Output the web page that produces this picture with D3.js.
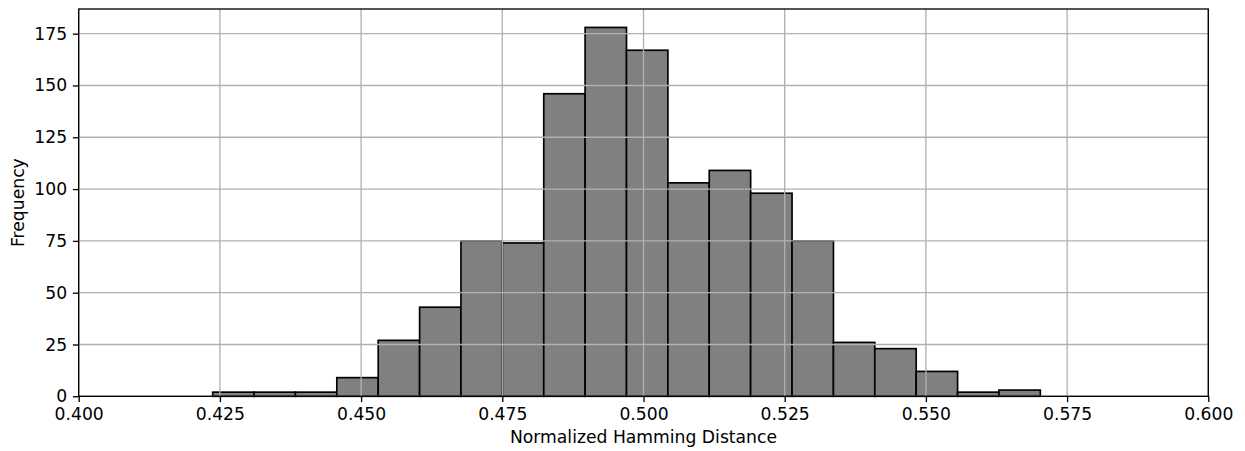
<!DOCTYPE html>
<html>
<head>
<meta charset="utf-8">
<script src="https://cdn.jsdelivr.net/npm/d3@7"></script>
<style>
  html, body { margin: 0; padding: 0; background: #fff; }
  svg { display: block; }
  text { font-family: "DejaVu Sans", sans-serif; fill: #000; }
</style>
</head>
<body>
<svg id="chart" width="1245" height="451"></svg>
<script>
// Histogram bin edges (Normalized Hamming Distance)
const binEdges = [0.42372, 0.43105, 0.43837, 0.44570, 0.45303, 0.46036, 0.46768,
  0.47501, 0.48234, 0.48966, 0.49699, 0.50432, 0.51164, 0.51897, 0.52630,
  0.53363, 0.54095, 0.54828, 0.55561, 0.56293, 0.57026];
// Frequencies per bin
const counts = [2, 2, 2, 9, 27, 43, 75, 74, 146, 178, 167, 103, 109, 98, 75, 26, 23, 12, 2, 3];
// Tick labels
const xTicks = [0.400, 0.425, 0.450, 0.475, 0.500, 0.525, 0.550, 0.575, 0.600];
const yTicks = [0, 25, 50, 75, 100, 125, 150, 175];
const xLabel = "Normalized Hamming Distance";
const yLabel = "Frequency";

const svg = d3.select("#chart");
const L = 78.7, R = 1208.3, T = 9, B = 396.3;
const fs = 17.2;

const x = d3.scaleLinear().domain([0.4, 0.6]).range([L, R]);
const yMax = d3.max(counts) * 1.05;
const y = d3.scaleLinear().domain([0, yMax]).range([B, T]);

const bins = counts.map((c, i) => ({x0: binEdges[i], x1: binEdges[i + 1], c}));

// bars
svg.append("g").selectAll("rect").data(bins).join("rect")
  .attr("x", d => x(d.x0))
  .attr("y", d => y(d.c))
  .attr("width", d => x(d.x1) - x(d.x0))
  .attr("height", d => y(0) - y(d.c))
  .attr("fill", "#808080")
  .attr("stroke", "#000")
  .attr("stroke-width", 1.67);

// grid (drawn above bars)
const grid = svg.append("g");
grid.selectAll("line.gx").data(xTicks).join("line")
  .attr("x1", d => x(d)).attr("x2", d => x(d))
  .attr("y1", T).attr("y2", B)
  .attr("stroke", "#b0b0b0").attr("stroke-width", 1.33);
grid.selectAll("line.gy").data(yTicks).join("line")
  .attr("y1", d => y(d)).attr("y2", d => y(d))
  .attr("x1", L).attr("x2", R)
  .attr("stroke", "#b0b0b0").attr("stroke-width", 1.33);

// axes
const xAxis = d3.axisBottom(x).tickValues(xTicks).tickFormat(d3.format(".3f"))
  .tickSize(5.8).tickPadding(5.8);
const gx = svg.append("g").attr("transform", `translate(0,${B})`).call(xAxis);
gx.select(".domain").remove();
gx.selectAll("line").attr("stroke", "#000").attr("stroke-width", 1.33);
gx.selectAll("text").attr("font-size", fs).attr("font-family", "DejaVu Sans").attr("dy", "0.71em");

const yAxis = d3.axisLeft(y).tickValues(yTicks).tickFormat(d3.format("d"))
  .tickSize(5.8).tickPadding(5.8);
const gy = svg.append("g").attr("transform", `translate(${L},0)`).call(yAxis);
gy.select(".domain").remove();
gy.selectAll("line").attr("stroke", "#000").attr("stroke-width", 1.33);
gy.selectAll("text").attr("font-size", fs).attr("font-family", "DejaVu Sans");

// frame
svg.append("rect").attr("x", L).attr("y", T).attr("width", R - L).attr("height", B - T)
  .attr("fill", "none").attr("stroke", "#000").attr("stroke-width", 1.33);

// labels
svg.append("text").attr("x", (L + R) / 2).attr("y", 443)
  .attr("text-anchor", "middle").attr("font-size", fs).text(xLabel);
svg.append("text").attr("transform", `translate(24,${(T + B) / 2}) rotate(-90)`)
  .attr("text-anchor", "middle").attr("font-size", fs).text(yLabel);
</script>
</body>
</html>
